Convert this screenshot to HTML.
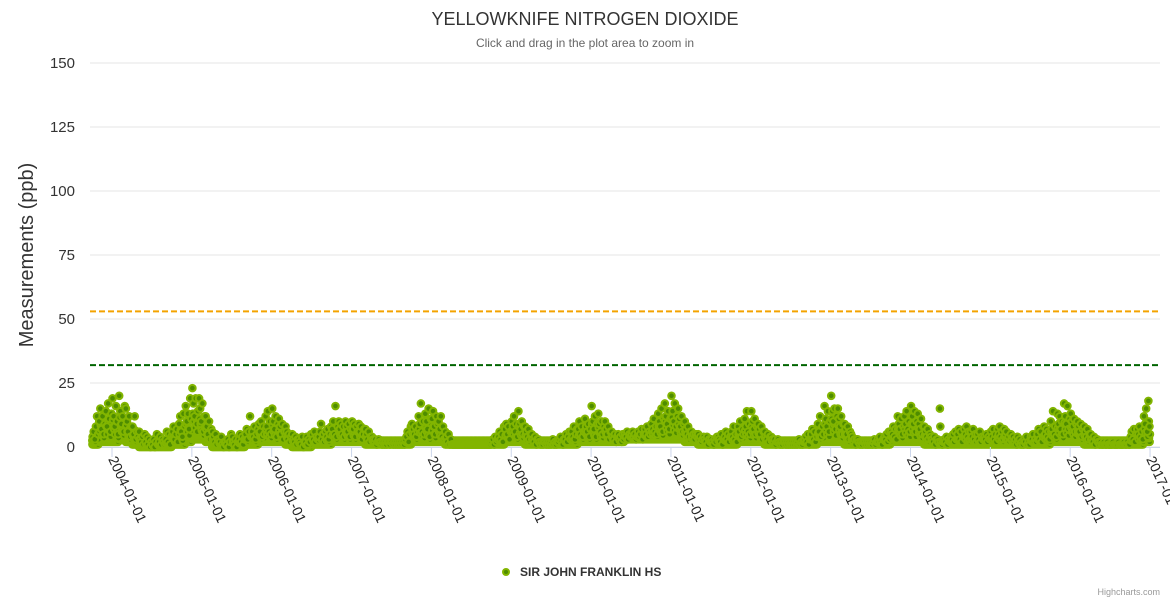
<!DOCTYPE html>
<html><head><meta charset="utf-8"><style>
body{margin:0;background:#fff;font-family:"Liberation Sans",sans-serif}
svg text{font-family:"Liberation Sans",sans-serif}
</style></head><body>
<svg id="c" width="1170" height="600">
<text x="585" y="25" text-anchor="middle" font-size="18" fill="#333">YELLOWKNIFE NITROGEN DIOXIDE</text>
<text x="585" y="47" text-anchor="middle" font-size="12" fill="#666">Click and drag in the plot area to zoom in</text>
<text transform="translate(33,255) rotate(-90)" text-anchor="middle" font-size="20" fill="#333">Measurements (ppb)</text>
<g id="grid"></g><g id="pts"></g><g id="xl"></g>
<g><circle cx="506" cy="572" r="3" fill="#4e8c00" stroke="#82b500" stroke-width="2"/>
<text x="520" y="576" font-size="12" font-weight="bold" fill="#333">SIR JOHN FRANKLIN HS</text></g>
<text x="1160" y="595" text-anchor="end" font-size="9" fill="#999">Highcharts.com</text>
</svg>
<script>
const yTicks=[0,25,50,75,100,125,150];
const xTickYears=[2004,2005,2006,2007,2008,2009,2010,2011,2012,2013,2014,2015,2016,2017];
const thresholds=[53,32];
const startYear=2003,startMonth=9;
const monthly=[
"4,6,3,8,12,5","10,15,7,12,5,9","14,8,17,11,6,13",
"19,12,8,16,10,5","20,14,9,12,6,16","15,10,6,12,4,8","8,5,12,3,6,4","6,3,2,4,1,5","2,4,1,3,0,2","1,3,0,2,5,1","2,4,1,3,2,1","3,6,2,5,1,4","6,8,3,5,7,2","9,12,6,4,13,8","16,10,13,7,19,11",
"23,17,12,19,9,14","19,15,10,17,6,12","12,8,5,10,3,7","6,4,2,5,1,3","3,2,4,1,0,2","2,1,3,0,2,5","4,2,1,3,0,2","3,5,2,4,1,3","5,7,3,6,12,4","6,4,8,3,5,7","9,6,10,4,8,5","12,8,14,6,10,5",
"15,10,7,12,4,9","11,8,5,9,3,6","8,6,3,5,2,4","5,3,2,4,1,3","3,2,1,4,0,2","2,4,1,3,2,5","5,3,6,2,4,3","4,6,9,3,5,2","6,4,7,3,5,8","7,10,5,16,4,8","10,7,9,5,8,4","10,8,6,9,4,7",
"10,7,9,4,8,6","9,6,8,3,5,7","7,5,3,6,2,4","4,3,2,3,1,2","3,2,2,1,2,1","2,1,2,2,1,2","2,1,2,1,2,1","2,1,2,1,2,1","3,4,6,2,5,8","9,7,5,8,4,6","12,9,17,6,10,5","13,10,7,15,4,11",
"11,14,8,5,12,9","10,7,12,4,8,3","6,4,2,5,1,3","1,1,1,1,1,1","1,1,1,1,1,1","1,1,1,1,1,1","1,1,1,1,1,1","1,1,1,1,1,1","1,1,1,1,1,1","2,3,1,4,2,3","4,6,3,5,2,8","7,9,5,8,3,6",
"10,8,12,6,9,4","14,9,7,10,5,8","8,6,4,7,3,5","5,3,2,4,1,3","3,2,1,2,1,2","2,1,2,1,2,1","2,3,1,2,1,2","2,3,4,2,1,3","3,5,2,4,6,3","6,4,8,3,5,7","7,10,5,8,4,6","11,8,6,9,4,7",
"16,10,7,12,4,9","13,9,6,10,5,8","10,7,5,8,3,6","6,4,3,5,2,4","5,3,4,2,5,3","5,4,6,3,5,4","5,6,4,5,3,4","6,4,5,7,3,5","7,5,8,4,6,5","9,7,11,6,8,5","13,10,8,15,6,11","17,12,9,14,7,11",
"20,14,10,17,8,12","15,11,8,12,6,9","10,7,5,8,4,6","6,4,5,3,5,4","5,3,4,2,3,4","3,2,4,1,3,2","3,2,1,3,2,4","4,3,2,5,1,3","4,6,3,5,2,4","6,4,8,3,5,2","8,6,10,4,7,5","11,8,14,6,9,5",
"14,10,7,11,5,8","9,7,5,8,3,6","6,4,3,5,2,4","4,3,2,3,1,2","3,2,1,2,1,2","2,1,2,1,2,1","2,1,2,1,2,1","2,3,1,2,1,2","3,4,2,5,1,3","5,7,3,6,2,4","9,6,12,4,8,5","16,11,8,14,6,10",
"20,14,10,15,7,12","15,11,8,12,5,9","9,7,5,8,3,6","5,4,2,3,1,3","3,2,1,2,1,2","2,1,2,1,2,1","2,1,2,3,1,2","3,2,4,2,1,3","4,3,5,2,6,3","6,5,8,4,7,3","12,9,7,11,5,8","12,9,14,7,10,6",
"16,12,9,14,6,10","13,9,7,11,5,8","8,6,4,7,3,5","4,3,2,4,1,3","3,2,15,2,1,2","3,2,4,1,3,2","4,3,5,2,6,3","5,7,3,6,2,4","7,5,8,4,6,3","6,4,7,3,5,2","5,3,6,2,4,3","4,3,5,2,4,3",
"6,4,7,3,5,2","7,5,8,4,6,3","7,5,6,3,4,2","5,3,4,2,3,1","4,2,3,1,2,1","3,2,4,1,2,1","4,3,5,2,3,2","5,7,3,6,2,4","8,5,7,4,6,3","10,7,14,5,8,4","13,9,12,7,10,5","17,12,9,16,7,11",
"13,10,8,11,6,9","10,8,6,9,4,7","8,6,4,7,3,5","5,3,2,4,1,3","3,2,1,2,1,1","2,1,1,2,1,1","1,1,2,1,1,1","1,2,1,1,1,1","2,1,1,2,1,1","4,6,3,7,2,5","7,5,8,4,6,3","12,9,15,6,18,8"
];
const monthlyLow=[1,2,2,
2,3,2,1,0,0,0,0,0,1,1,2,
3,3,2,0,0,0,0,0,1,1,2,2,
2,2,1,0,0,0,1,1,1,2,2,2,
2,2,1,1,1,1,1,1,1,2,2,2,
2,2,1,1,1,1,1,1,1,1,1,2,
2,2,1,1,1,1,1,1,1,1,2,2,
2,2,2,2,2,3,3,3,3,3,3,3,
3,3,2,2,1,1,1,1,1,1,2,2,
2,2,1,1,1,1,1,1,1,1,2,2,
2,2,1,1,1,1,1,1,1,2,2,2,
2,2,1,1,1,1,1,1,1,1,1,1,
1,1,1,1,1,1,1,1,1,2,2,2,
2,2,1,1,1,1,1,1,1,1,1,2];
const NS="http://www.w3.org/2000/svg";
const X0=90,X1=1160,Y0=447,Y1=63;
function ySc(v){return Y0-(v/150)*(Y0-Y1);}
function xSc(yearFrac){return 112+(yearFrac-2004)*79.85;}
function mk(t,a,p){const e=document.createElementNS(NS,t);for(const k in a)e.setAttribute(k,a[k]);p.appendChild(e);return e;}
const grid=document.getElementById('grid');
yTicks.forEach(v=>{
  const l=mk('line',{x1:X0,x2:X1,y1:ySc(v),y2:ySc(v),stroke:'#e6e6e6'},grid);
  
  
  const t=mk('text',{x:75,y:ySc(v)+5,'text-anchor':'end','font-size':15,fill:'#333'},grid);
  t.textContent=v;
  
  
});
mk('line',{x1:X0,x2:X1,y1:Y0+0.5,y2:Y0+0.5,stroke:'#ccd6eb'},grid);
const colors=['#f4a300','#006400'];
thresholds.forEach((v,i)=>{
  const l=mk('line',{x1:X0,x2:X1,y1:ySc(v),y2:ySc(v),stroke:colors[i],'stroke-width':2,'stroke-dasharray':'6,3'},grid);
  
  
});
const xl=document.getElementById('xl');
xTickYears.forEach(y=>{
  const x=xSc(y);
  mk('line',{x1:x,x2:x,y1:Y0,y2:Y0+10,stroke:'#ccd6eb'},xl);
  const t=mk('text',{x:0,y:0,'font-size':14,fill:'#222',transform:`translate(${x-4},${Y0+12}) rotate(65)`},xl);
  t.textContent=y+'-01-01';
  
  
});
const pts=document.getElementById('pts');
function dot(yf,v){
  const c=mk('circle',{cx:xSc(yf),cy:ySc(v),r:3.3,fill:'#4e8c00',stroke:'#82b500','stroke-width':2},pts);
  
  
}
monthly.forEach((s,i)=>{
  const m=startMonth+i;
  const low=monthlyLow[i];
  for(let j=0;j<8;j++){dot(startYear+(m+(j+0.5)/8)/12,low);}
  for(let j=0;j<5;j++){dot(startYear+(m+(j+0.2)/5)/12,low+1.5);}
});
monthly.forEach((s,i)=>{
  const vals=s.split(',').map(Number);
  const m=startMonth+i;
  const low=monthlyLow[i];
  vals.forEach((v,j)=>{
    dot(startYear+(m+(j+0.9)/vals.length)/12,(v+low)/2);
  });
  vals.forEach((v,j)=>{
    dot(startYear+(m+(j+0.5)/vals.length)/12,v);
  });
});
</script>
</body></html>
